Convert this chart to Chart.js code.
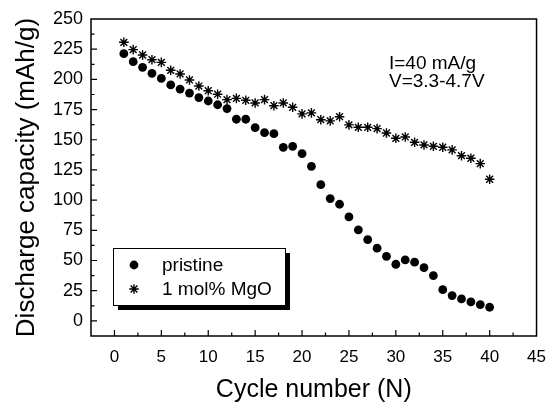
<!DOCTYPE html>
<html>
<head>
<meta charset="utf-8">
<script src="https://cdn.jsdelivr.net/npm/chart.js@4.4.1/dist/chart.umd.min.js"></script>
<style>
  html, body { margin: 0; padding: 0; background: #fff; }
</style>
</head>
<body>
<canvas id="chart" width="557" height="406"></canvas>
<script>
// cycle number (N)
const cycles = [1, 2, 3, 4, 5, 6, 7, 8, 9, 10, 11, 12, 13, 14, 15, 16, 17, 18, 19, 20,
    21, 22, 23, 24, 25, 26, 27, 28, 29, 30, 31, 32, 33, 34, 35, 36, 37, 38, 39, 40];
// discharge capacity (mAh/g)
const pristine = [221.3, 214.7, 210.0, 205.0, 200.9, 195.4, 192.0, 188.7, 184.9, 182.1,
    179.0, 175.8, 167.0, 167.0, 160.0, 155.9, 155.0, 143.7, 144.6, 138.5,
    128.0, 112.8, 101.3, 96.6, 86.1, 75.3, 67.3, 60.2, 53.5, 46.9,
    50.5, 48.6, 44.1, 37.5, 25.9, 21.0, 18.2, 15.7, 13.5, 11.3];
const mgo = [230.7, 224.6, 220.2, 216.3, 214.1, 207.5, 204.5, 199.5, 194.5, 190.6,
    187.7, 183.2, 184.3, 182.7, 180.5, 183.2, 178.2, 180.5, 176.9, 171.4,
    172.3, 166.6, 165.6, 169.1, 162.3, 160.3, 160.3, 159.2, 155.6, 151.2,
    152.3, 147.9, 145.7, 144.6, 143.8, 141.6, 136.8, 134.7, 130.2, 117.3];
const seriesLabels = ["pristine", "1 mol% MgO"];
const xTicks = [0, 5, 10, 15, 20, 25, 30, 35, 40, 45];
const yTicks = [0, 25, 50, 75, 100, 125, 150, 175, 200, 225, 250];
const notes = ["I=40 mA/g", "V=3.3-4.7V"];

const FONT = "'Liberation Sans', Arial, Helvetica, sans-serif";
Chart.defaults.font.family = FONT;
Chart.defaults.color = "#000";

function toPoints(ys) {
    return cycles.map((c, i) => ({ x: c, y: ys[i] }));
}

// frame, inward ticks (major + minor), legend box and condition note
const decorations = {
    id: "decorations",
    beforeDatasetsDraw(chart) {
        const { ctx, chartArea: ca, scales: { x, y } } = chart;
        ctx.save();
        ctx.strokeStyle = "#000";
        ctx.lineWidth = 1.5;
        ctx.strokeRect(ca.left, ca.top, ca.right - ca.left, ca.bottom - ca.top);

        ctx.lineWidth = 1.2;
        ctx.beginPath();
        for (let v = 0; v < x.max; v += 2.5) {
            const px = x.getPixelForValue(v);
            const len = v % 5 === 0 ? 6 : 3.5;
            ctx.moveTo(px, ca.bottom);
            ctx.lineTo(px, ca.bottom - len);
        }
        for (let v = 0; v < y.max; v += 12.5) {
            const py = y.getPixelForValue(v);
            const len = v % 25 === 0 ? 6 : 3.5;
            ctx.moveTo(ca.left, py);
            ctx.lineTo(ca.left + len, py);
        }
        ctx.stroke();
        ctx.restore();
    },
    afterDatasetsDraw(chart) {
        const { ctx, chartArea: ca } = chart;
        ctx.save();

        // legend with drop shadow
        const bx = ca.left + 22, by = ca.top + 229, bw = 172, bh = 57;
        ctx.fillStyle = "#000";
        ctx.fillRect(bx + 5, by + 5, bw, bh);
        ctx.fillStyle = "#fff";
        ctx.fillRect(bx, by, bw, bh);
        ctx.strokeStyle = "#000";
        ctx.lineWidth = 1;
        ctx.strokeRect(bx + 0.5, by + 0.5, bw, bh);

        ctx.font = "19px " + FONT;
        ctx.textBaseline = "middle";
        ctx.textAlign = "left";
        chart.data.datasets.forEach((ds, i) => {
            const ly = by + 17 + i * 24;
            ctx.fillStyle = "#000";
            ctx.strokeStyle = "#000";
            ctx.lineWidth = ds.borderWidth || 1;
            Chart.helpers.drawPoint(ctx, {
                pointStyle: ds.pointStyle,
                radius: ds.pointRadius,
                borderWidth: ds.borderWidth,
                rotation: 0
            }, bx + 21, ly);
            ctx.fillStyle = "#000";
            ctx.fillText(ds.label, bx + 49, ly + 1);
        });

        // measurement conditions
        ctx.font = "19px " + FONT;
        ctx.fillStyle = "#000";
        notes.forEach((t, i) => {
            ctx.fillText(t, ca.left + 298, ca.top + 45 + i * 18);
        });
        ctx.restore();
    }
};

new Chart(document.getElementById("chart"), {
    type: "scatter",
    data: {
        datasets: [
            {
                label: seriesLabels[0],
                data: toPoints(pristine),
                pointStyle: "circle",
                pointRadius: 4.4,
                borderWidth: 0,
                backgroundColor: "#000",
                borderColor: "#000"
            },
            {
                label: seriesLabels[1],
                data: toPoints(mgo),
                pointStyle: "star",
                pointRadius: 4.8,
                borderWidth: 1.4,
                backgroundColor: "#000",
                borderColor: "#000"
            }
        ]
    },
    options: {
        responsive: false,
        animation: false,
        events: [],
        layout: { padding: { top: 19, right: 17.5, left: 0, bottom: 0 } },
        plugins: {
            legend: { display: false },
            tooltip: { enabled: false }
        },
        scales: {
            x: {
                type: "linear",
                min: -2.5,
                max: 45,
                afterBuildTicks: (scale) => {
                    scale.ticks = xTicks.map((v) => ({ value: v }));
                },
                afterFit: (scale) => {
                    scale.height = 70;
                },
                grid: { display: false, drawTicks: false },
                border: { display: false },
                ticks: { font: { size: 17 }, padding: 11, maxRotation: 0, autoSkip: false },
                title: {
                    display: true,
                    text: "Cycle number (N)",
                    font: { size: 25 },
                    padding: { top: 0, bottom: 1 }
                }
            },
            y: {
                type: "linear",
                min: -12.5,
                max: 250,
                afterBuildTicks: (scale) => {
                    scale.ticks = yTicks.map((v) => ({ value: v }));
                },
                afterFit: (scale) => {
                    scale.width = 91;
                },
                grid: { display: false, drawTicks: false },
                border: { display: false },
                ticks: { font: { size: 18 }, padding: 8, autoSkip: false },
                title: {
                    display: true,
                    text: "Discharge capacity (mAh/g)",
                    font: { size: 26 },
                    padding: { top: 11, bottom: 0 }
                }
            }
        }
    },
    plugins: [decorations]
});
</script>
</body>
</html>
